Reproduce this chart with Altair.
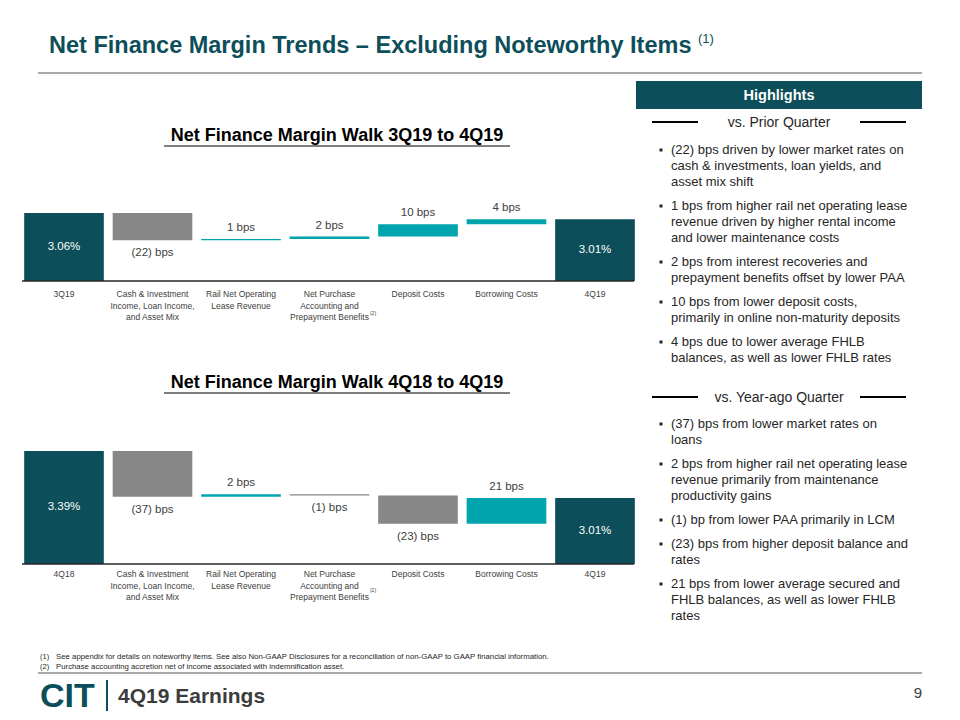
import altair as alt
import pandas as pd

FONT = "Liberation Sans"
DARK = "#0C4E59"
TEAL = "#00A4AC"
GRAY = "#878787"
TXT = "#262626"
LBL = "#404040"

# ---------------- data ----------------
STEP_KEYS = ["start", "cash", "rail", "pa", "dep", "bor", "end"]
MID_LABELS = [
    "Cash & Investment\nIncome, Loan Income,\nand Asset Mix",
    "Rail Net Operating\nLease Revenue",
    "Net Purchase\nAccounting and\nPrepayment Benefits",
    "Deposit Costs",
    "Borrowing Costs",
]
LABELS_1 = ["3Q19"] + MID_LABELS + ["4Q19"]
LABELS_2 = ["4Q18"] + MID_LABELS + ["4Q19"]
START_1, END_1 = 3.06, 3.01
DELTAS_1 = [-22, 1, 2, 10, 4]
START_2, END_2 = 3.39, 3.01
DELTAS_2 = [-37, 2, -1, -23, 21]

TITLE = "Net Finance Margin Trends \u2013 Excluding Noteworthy Items"
CHART_TITLE_1 = "Net Finance Margin Walk 3Q19 to 4Q19"
CHART_TITLE_2 = "Net Finance Margin Walk 4Q18 to 4Q19"

PRIOR = [
    ["(22) bps driven  by lower market rates on", "cash & investments, loan yields, and", "asset mix shift"],
    ["1 bps from higher rail net operating lease", "revenue  driven  by higher rental income", "and lower maintenance  costs"],
    ["2 bps from interest recoveries  and", "prepayment  benefits offset by lower PAA"],
    ["10 bps from lower deposit costs,", "primarily in online non-maturity deposits"],
    ["4 bps due to lower average  FHLB", "balances, as well as lower FHLB rates"],
]
YEARAGO = [
    ["(37) bps from lower market rates on", "loans"],
    ["2 bps from higher rail net operating lease", "revenue  primarily from maintenance", "productivity gains"],
    ["(1) bp from lower PAA primarily in LCM"],
    ["(23) bps from higher deposit balance and", "rates"],
    ["21 bps from lower average  secured and", "FHLB balances, as well as lower FHLB", "rates"],
]
FOOTNOTES = [
    ("(1)", "See appendix  for details on noteworthy  items. See also Non-GAAP Disclosures for a reconciliation of non-GAAP to GAAP financial information."),
    ("(2)", "Purchase accounting accretion net of income associated with indemnification asset."),
]

OFF = 8  # page margin
one = pd.DataFrame({"k": [0]})


def txt(s, x, y, size, color=TXT, weight="normal", align="left", baseline="middle", font=FONT):
    return alt.Chart(one).mark_text(
        text=s, fontSize=size, color=color, fontWeight=weight, align=align,
        baseline=baseline, font=font,
    ).encode(x=alt.value(x - OFF), y=alt.value(y - OFF))


def hline(x1, x2, y, color, width=1):
    return alt.Chart(one).mark_rule(color=color, strokeWidth=width).encode(
        x=alt.value(x1 - OFF), x2=alt.value(x2 - OFF), y=alt.value(y - OFF))


def vline(x, y1, y2, color, width=1):
    return alt.Chart(one).mark_rule(color=color, strokeWidth=width).encode(
        x=alt.value(x - OFF), y=alt.value(y1 - OFF), y2=alt.value(y2 - OFF))


def rect(x1, x2, y1, y2, color):
    return alt.Chart(one).mark_rect(color=color).encode(
        x=alt.value(x1 - OFF), x2=alt.value(x2 - OFF),
        y=alt.value(y1 - OFF), y2=alt.value(y2 - OFF))


def walk_df(start, deltas, end, base, labels):
    rows = [dict(key=STEP_KEYS[0], cat=labels[0], y0=base, y1=start, kind="total",
                 label=f"{start:.2f}%")]
    level = start
    for i, d in enumerate(deltas):
        new = round(level + d / 100.0, 4)
        rows.append(dict(key=STEP_KEYS[i + 1], cat=labels[i + 1], y0=level, y1=new,
                         kind="up" if d > 0 else "down",
                         label=f"{d} bps" if d > 0 else f"({-d}) bps"))
        level = new
    rows.append(dict(key=STEP_KEYS[-1], cat=labels[-1], y0=base, y1=end, kind="total",
                     label=f"{end:.2f}%"))
    df = pd.DataFrame(rows)
    df["top"] = df[["y0", "y1"]].max(axis=1)
    df["bot"] = df[["y0", "y1"]].min(axis=1)
    df["mid"] = (df["y0"] + df["y1"]) / 2
    return df


PX_PER_PCT = 123.5
X_RANGE = [19.75 - OFF, 639.25 - OFF]


def walk_layers(df, base, top_dom, base_px, cat_y, title, title_y, sup_y):
    yr = [base_px - OFF, base_px - OFF - (top_dom - base) * PX_PER_PCT]
    xs = alt.Scale(domain=STEP_KEYS, range=X_RANGE, paddingInner=0.1, paddingOuter=0.05)
    ys = alt.Scale(domain=[base, top_dom], range=yr, zero=False, nice=False)
    X = alt.X("key:N", scale=xs, axis=None)
    b = alt.Chart(df)
    bars = b.mark_bar(strokeWidth=0).encode(
        x=X, y=alt.Y("y0:Q", scale=ys, axis=None), y2="y1:Q",
        color=alt.Color("kind:N", legend=None,
                        scale=alt.Scale(domain=["total", "up", "down"], range=[DARK, TEAL, GRAY])))
    tot = b.transform_filter("datum.kind == 'total'").mark_text(
        font=FONT, fontSize=11.5, color="white", baseline="middle").encode(
        x=X, y=alt.Y("mid:Q", scale=ys, axis=None), text="label:N")
    up = b.transform_filter("datum.kind == 'up'").mark_text(
        font=FONT, fontSize=11.5, color=LBL, baseline="alphabetic", dy=-8).encode(
        x=X, y=alt.Y("top:Q", scale=ys, axis=None), text="label:N")
    down = b.transform_filter("datum.kind == 'down'").mark_text(
        font=FONT, fontSize=11.5, color=LBL, baseline="alphabetic", dy=16).encode(
        x=X, y=alt.Y("bot:Q", scale=ys, axis=None), text="label:N")
    cats = b.mark_text(font=FONT, fontSize=8.5, color=LBL, baseline="top",
                       lineBreak="\n", lineHeight=11.5).encode(
        x=X, y=alt.value(cat_y - OFF), text="cat:N")
    axis = hline(22, 634, base_px, "#262626", 1.5)
    t = txt(title, 337, title_y, 18, color="#000000", weight="bold", align="center")
    ul = hline(164, 510, title_y + 10, "#000000", 1.2)
    sup = txt("(2)", 373, sup_y, 5, color=LBL, align="center")
    return [bars, axis, tot, up, down, cats, t, ul, sup]


df1 = walk_df(START_1, DELTAS_1, END_1, 2.51, LABELS_1)
df2 = walk_df(START_2, DELTAS_2, END_2, 2.475, LABELS_2)

layers = []
# title
layers.append(txt(TITLE, 49, 53, 23.5, color=DARK, weight="bold", baseline="alphabetic"))
layers.append(txt("(1)", 698, 43, 13, color=DARK, weight="normal", baseline="alphabetic"))
layers.append(hline(38, 922, 73, "#8C8C8C", 1.5))

# waterfalls
layers += walk_layers(df1, 2.51, 3.10, 281, 290, CHART_TITLE_1, 136, 313)
layers += walk_layers(df2, 2.475, 3.40, 564, 570, CHART_TITLE_2, 383, 590)

# highlights panel
layers.append(rect(636, 922, 81, 109, DARK))
layers.append(txt("Highlights", 779, 95.5, 14.5, color="white", weight="bold", align="center"))


def section(header, hy, groups, first_y):
    out = [txt(header, 779, hy, 14, align="center"),
           hline(652, 698, hy - 1, "#000000", 2), hline(860, 906, hy - 1, "#000000", 2)]
    rows, sq = [], []
    y = first_y
    for g in groups:
        sq.append(dict(y=y - OFF))
        for line in g:
            rows.append(dict(y=y - OFF, t=line))
            y += 16
        y += 8
    out.append(alt.Chart(pd.DataFrame(rows)).mark_text(
        font=FONT, fontSize=13, color=TXT, align="left", baseline="middle").encode(
        x=alt.value(671 - OFF), y=alt.Y("y:Q", scale=None), text="t:N"))
    out.append(alt.Chart(pd.DataFrame(sq)).mark_square(size=9, color=TXT, opacity=1).encode(
        x=alt.value(661 - OFF), y=alt.Y("y:Q", scale=None)))
    return out


layers += section("vs. Prior Quarter", 123, PRIOR, 150)
layers += section("vs. Year-ago Quarter", 398, YEARAGO, 424)

# footnotes & footer
for i, (num, note) in enumerate(FOOTNOTES):
    layers.append(txt(num, 40, 657 + 10 * i, 7.5, color=TXT))
    layers.append(txt(note, 56, 657 + 10 * i, 7.8, color=TXT))
layers.append(hline(38, 922, 673, "#8C8C8C", 1.5))
layers.append(txt("CIT", 40, 697, 34, color=DARK, weight="bold", font=FONT))
layers.append(vline(107, 680, 711, DARK, 2))
layers.append(txt("4Q19 Earnings", 118, 697, 21, color="#3C3C3C", weight="bold"))
layers.append(txt("9", 922, 693, 15, color="#3C3C3C", align="right"))

chart = alt.layer(*layers).resolve_scale(
    x="independent", y="independent", color="independent"
).properties(
    width=944, height=704, padding=0,
    autosize=alt.AutoSizeParams(type="none"), background="white",
).configure_view(stroke=None)

chart.save("out.html", embed_options={"renderer": "svg", "actions": False})
